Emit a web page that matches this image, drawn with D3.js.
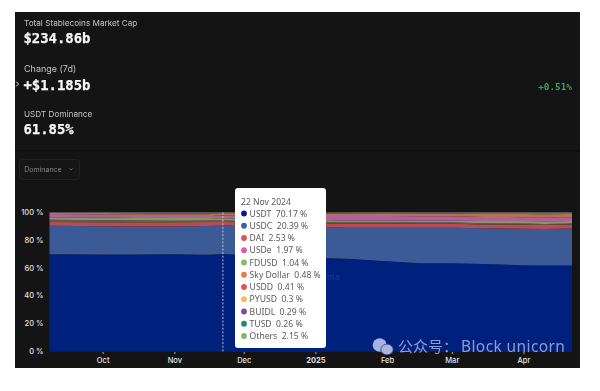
<!DOCTYPE html>
<html><head><meta charset="utf-8">
<script src="https://cdn.jsdelivr.net/npm/d3@7/dist/d3.min.js"></script>
<style>
html,body{margin:0;padding:0;background:#fff;width:600px;height:391px;overflow:hidden}
svg{display:block;filter:blur(0.35px)}
text{font-family:Inter,"Liberation Sans",sans-serif}
.mono{font-family:"DejaVu Sans Mono","Liberation Mono",monospace;font-weight:700}
</style></head><body>
<svg id="c" width="600" height="391"></svg>
<script>
const dates = ["2024-09-08","2024-10-01","2024-10-15","2024-11-01","2024-11-15","2024-11-22","2024-12-15","2025-01-01","2025-01-15","2025-02-01","2025-02-15","2025-03-01","2025-03-15","2025-04-01","2025-04-10","2025-04-22"];
const USDT =  [69.9,69.7,69.8,69.9,69.6,70.17,68.5,67.4,66.7,64.9,63.5,63.4,62.9,62.1,61.9,61.85];
const USDC =  [20.5,20.3,20.0,19.9,20.5,20.39,21.3,21.8,22.3,24.1,25.5,25.6,25.7,26.1,26.1,26.55];
const DAI  =  [2.6,2.9,3.1,3.1,3.0,2.53,2.8,2.8,2.9,2.9,2.8,2.8,2.7,2.9,2.9,2.8];
const USDD =  [1.6,1.4,1.2,1.1,1.0,1.0,0.9,1.0,1.0,1.0,0.9,0.9,0.9,0.8,0.8,0.7];
const FDUSD = [1.9,1.9,1.9,2.0,1.9,1.7,1.5,1.4,1.3,1.3,1.3,1.3,1.5,1.8,1.9,1.9];
const USDe =  [2.2,2.3,2.3,2.2,2.2,1.97,2.6,3.0,3.2,3.2,3.2,3.2,3.0,2.8,2.8,2.7];
const SkyDollar = [0.9,1.0,1.1,1.0,1.0,0.94,1.6,1.6,1.7,1.9,1.9,1.9,2.0,2.2,2.2,2.3];
const Others = [0.4,0.5,0.6,0.8,0.8,1.3,0.8,0.9,0.9,0.7,0.9,0.9,1.3,1.3,1.4,1.2];
const stackNames = ["USDT","USDC","DAI","USDD","FDUSD","USDe","SkyDollar","Others"];
const stackSeries = {USDT,USDC,DAI,USDD,FDUSD,USDe,SkyDollar,Others};
const stackColors = ["#00207e","#3c5a96","#bb4a52","#5e5b4e","#7f9c5c","#b75ca2","#b2744c","#6e6c66"];
const yTicks = [0,20,40,60,80,100];
const xTickDates = ["2024-10-01","2024-11-01","2024-12-01","2025-01-01","2025-02-01","2025-03-01","2025-04-01"];
const xTickLabels = ["Oct","Nov","Dec","2025","Feb","Mar","Apr"];
const tipDate = "22 Nov 2024";
const tipNames = ["USDT","USDC","DAI","USDe","FDUSD","Sky Dollar","USDD","PYUSD","BUIDL","TUSD","Others"];
const tipValues = ["70.17","20.39","2.53","1.97","1.04","0.48","0.41","0.3","0.29","0.26","2.15"];
const tipColors = ["#00208a","#3a5ea8","#e0505a","#d65cb0","#84bb62","#ee7a48","#e0505a","#f5bd50","#7e4ba6","#1f8a6e","#7dbb66"];
const crossDate = "2024-11-22";

const parse = d3.utcParse("%Y-%m-%d");
const svg = d3.select("#c");
svg.append("rect").attr("x",15).attr("y",12).attr("width",565).attr("height",356).attr("fill","#141414");
svg.append("rect").attr("x",15).attr("y",150).attr("width",565).attr("height",1.5).attr("fill","#0d0d0d");

const x = d3.scaleUtc().domain([parse("2024-09-08"),parse("2025-04-22")]).range([49.5,572]);
const y = d3.scaleLinear().domain([0,100]).range([351.8,212.3]);

const rows = dates.map((d,i)=>{const r={date:parse(d)};stackNames.forEach(n=>r[n]=stackSeries[n][i]);return r;});
const layers = d3.stack().keys(stackNames)(rows);
const area = d3.area().x(d=>x(d.data.date)).y0(d=>y(d[0])).y1(d=>y(d[1]));
svg.append("g").selectAll("path").data(layers).join("path")
  .attr("d",area).attr("fill",(d,i)=>stackColors[i]);

// axes
const yAxis = d3.axisLeft(y).tickValues(yTicks).tickSize(0).tickPadding(5.5).tickFormat(d=>d+" %");
const yg = svg.append("g").attr("transform","translate(49,-0.5)").call(yAxis);
yg.select(".domain").remove();
yg.selectAll("text").attr("fill","#e2e2e2").style("font-size","7.5px").style("font-weight","500");
const xAxis = d3.axisBottom(x).tickValues(xTickDates.map(parse)).tickSize(2).tickPadding(3.5)
  .tickFormat((d,i)=>xTickLabels[i]);
const xg = svg.append("g").attr("transform","translate(0,352)").call(xAxis);
xg.select(".domain").remove();
xg.selectAll("line").attr("stroke","#aaa");
xg.selectAll("text").attr("fill","#e2e2e2").style("font-size","7.5px").style("font-weight","500");
xg.selectAll("text").filter((d,i)=>xTickLabels[i]==="2025").style("font-weight","700");

// crosshair
svg.append("line").attr("x1",x(parse(crossDate))).attr("x2",x(parse(crossDate))).attr("y1",212.5).attr("y2",352)
  .attr("stroke","#c9d0e2").attr("stroke-width",0.9).attr("stroke-dasharray","2 1.6");

// faint brand mark, cut by the tooltip in the reference
svg.append("text").attr("x",327).attr("y",280).attr("fill","#1f358f").style("font-size","9px").text("ma");

// header stats
const stats = [["Total Stablecoins Market Cap","$234.86b",26,43,8.2],["Change (7d)","+$1.185b",72,90,9],["USDT Dominance","61.85%",117,134,8.2]];
stats.forEach(s=>{
  svg.append("text").attr("x",24).attr("y",s[2]).attr("fill","#c4c4c4").style("font-size",s[4]+"px").text(s[0]);
  svg.append("text").attr("class","mono").attr("x",23.5).attr("y",s[3]).attr("fill","#f8f8f8").attr("stroke","#f8f8f8").attr("stroke-width",0.25).style("font-size","13.9px").text(s[1]);
});
svg.append("text").attr("class","mono").attr("x",572).attr("y",90).attr("text-anchor","end").attr("fill","#3f9e58").style("font-size","9.4px").text("+0.51%");
svg.append("path").attr("d","M16 81.5l2.5 2.5l-2.5 2.5").attr("fill","none").attr("stroke","#eee").attr("stroke-width",0.9);

// dropdown
svg.append("rect").attr("x",19.5).attr("y",159.5).attr("width",60).attr("height",20).attr("rx",3).attr("fill","#161616").attr("stroke","#222");
svg.append("text").attr("x",24.3).attr("y",172).attr("fill","#888").style("font-size","7px").text("Dominance");
svg.append("path").attr("d","M69.5 168.5l1.5 1.5l1.5-1.5").attr("fill","none").attr("stroke","#888").attr("stroke-width",0.7);

// tooltip
const tip = svg.append("g");
tip.append("rect").attr("x",235).attr("y",188).attr("width",91).attr("height",160).attr("rx",3).attr("fill","#fff");
tip.append("text").attr("x",241).attr("y",204.5).attr("fill","#5a5a5a").style("font-family",'"Noto Sans",sans-serif').style("font-size","8.6px").text(tipDate);
const rowY = d3.scaleLinear().domain([0,10]).range([213.5,336]);
tipNames.forEach((n,i)=>{
  const yy = rowY(i);
  tip.append("circle").attr("cx",244).attr("cy",yy).attr("r",2.9).attr("fill",tipColors[i]);
  tip.append("text").attr("x",249.6).attr("y",yy+3).attr("fill","#5a5a5a").style("font-family",'"Noto Sans",sans-serif').style("font-size","8.6px")
    .text(n+"\u00a0\u00a0"+tipValues[i]+" %");
});

// watermark
const wm = svg.append("g").attr("fill","#a9b4de");
wm.append("ellipse").attr("cx",379.7).attr("cy",345).attr("rx",7).attr("ry",6.8);
wm.append("ellipse").attr("cx",387).attr("cy",349.5).attr("rx",6.2).attr("ry",5.4).attr("stroke","#14267e").attr("stroke-width",0.7);
svg.append("text").attr("x",398).attr("y",352).attr("fill","#8f9bd2")
  .style("font-family",'"Noto Sans CJK SC",sans-serif').style("font-size","15px").text("公众号：");
svg.append("text").attr("x",461).attr("y",352).attr("fill","#8f9bd2")
  .style("font-family",'"Noto Sans",sans-serif').style("font-size","15.5px").style("letter-spacing","0.4px").text("Block unicorn");
</script></body></html>
